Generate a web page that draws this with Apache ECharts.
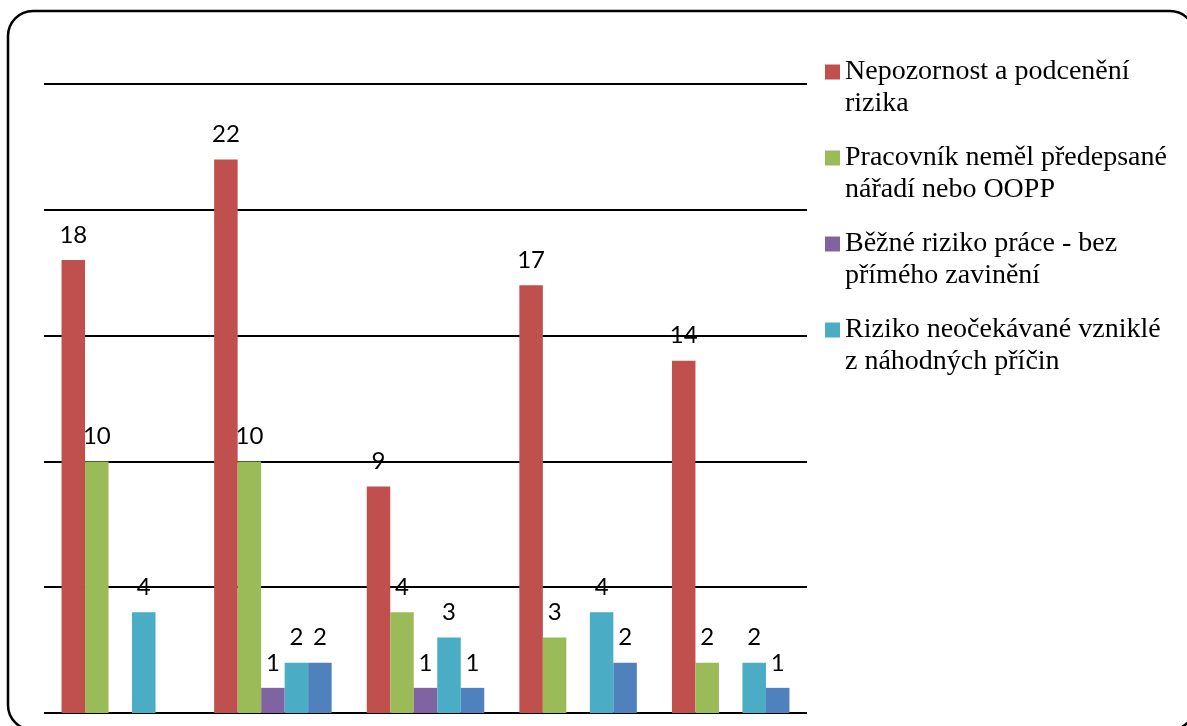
<!DOCTYPE html>
<html>
<head>
<meta charset="utf-8">
<script src="https://cdn.jsdelivr.net/npm/echarts@6/dist/echarts.min.js"></script>
<style>
  html, body { margin: 0; padding: 0; background: #fff; }
  #main { width: 1187px; height: 726px; }
</style>
</head>
<body>
<div id="main"></div>
<script>
// skupiny (popisky osy nejsou v grafu vidět)
var categories = ['1', '2', '3', '4', '5'];

var seriesNames = [
  'Nepozornost a podcenění rizika',
  'Pracovník neměl předepsané nářadí nebo OOPP',
  'Běžné riziko práce - bez přímého zavinění',
  'Riziko neočekávané vzniklé z náhodných příčin',
  'Ostatní'
];
// zalomení textu v legendě
var legendLabels = [
  'Nepozornost a podcenění\nrizika',
  'Pracovník neměl předepsané\nnářadí nebo OOPP',
  'Běžné riziko práce - bez\npřímého zavinění',
  'Riziko neočekávané vzniklé\nz náhodných příčin'
];

var nepozornost = [18, 22, 9, 17, 14];
var naradi = [10, 10, 4, 3, 2];
var bezneRiziko = [null, 1, 1, null, null];
var nahodne = [4, 2, 3, 4, 2];
var ostatni = [null, 2, 1, 2, 1];

var colors = ['#C0504D', '#9BBB59', '#8064A2', '#4BACC6', '#4F81BD'];

var chart = echarts.init(document.getElementById('main'));

function makeSeries(i, values) {
  return {
    name: seriesNames[i],
    type: 'bar',
    data: values,
    barGap: '0%',
    barCategoryGap: '23%',
    itemStyle: { color: colors[i] },
    label: {
      show: true,
      position: 'top',
      distance: 13,
      color: '#000',
      fontFamily: 'Lato',
      fontSize: 24
    }
  };
}

var option = {
  animation: false,
  backgroundColor: '#fff',
  graphic: [{
    type: 'rect',
    shape: { x: 8, y: 11, width: 1187, height: 719, r: 25 },
    style: { fill: 'none', stroke: '#000', lineWidth: 2.5 },
    z: 100
  }],
  grid: { left: 44, right: 380, top: 84, bottom: 13 },
  legend: {
    orient: 'vertical',
    left: 825,
    top: 24,
    padding: 0,
    itemWidth: 15,
    itemHeight: 15,
    itemGap: -10,
    icon: 'rect',
    data: seriesNames.slice(0, 4),
    formatter: function (name) {
      // prázdný první řádek -> čtverec je u prvního řádku textu
      return '\n' + legendLabels[seriesNames.indexOf(name)];
    },
    textStyle: {
      fontFamily: 'Liberation Serif',
      fontSize: 28,
      lineHeight: 32,
      color: '#000'
    }
  },
  xAxis: {
    type: 'category',
    data: categories,
    axisLine: { show: false },
    axisTick: { show: false },
    axisLabel: { show: false }
  },
  yAxis: {
    type: 'value',
    min: 0,
    max: 25,
    interval: 5,
    axisLine: { show: false },
    axisTick: { show: false },
    axisLabel: { show: false },
    splitLine: { lineStyle: { color: '#000', width: 2 } }
  },
  series: [
    makeSeries(0, nepozornost),
    makeSeries(1, naradi),
    makeSeries(2, bezneRiziko),
    makeSeries(3, nahodne),
    makeSeries(4, ostatni)
  ]
};

chart.setOption(option);
</script>
</body>
</html>
